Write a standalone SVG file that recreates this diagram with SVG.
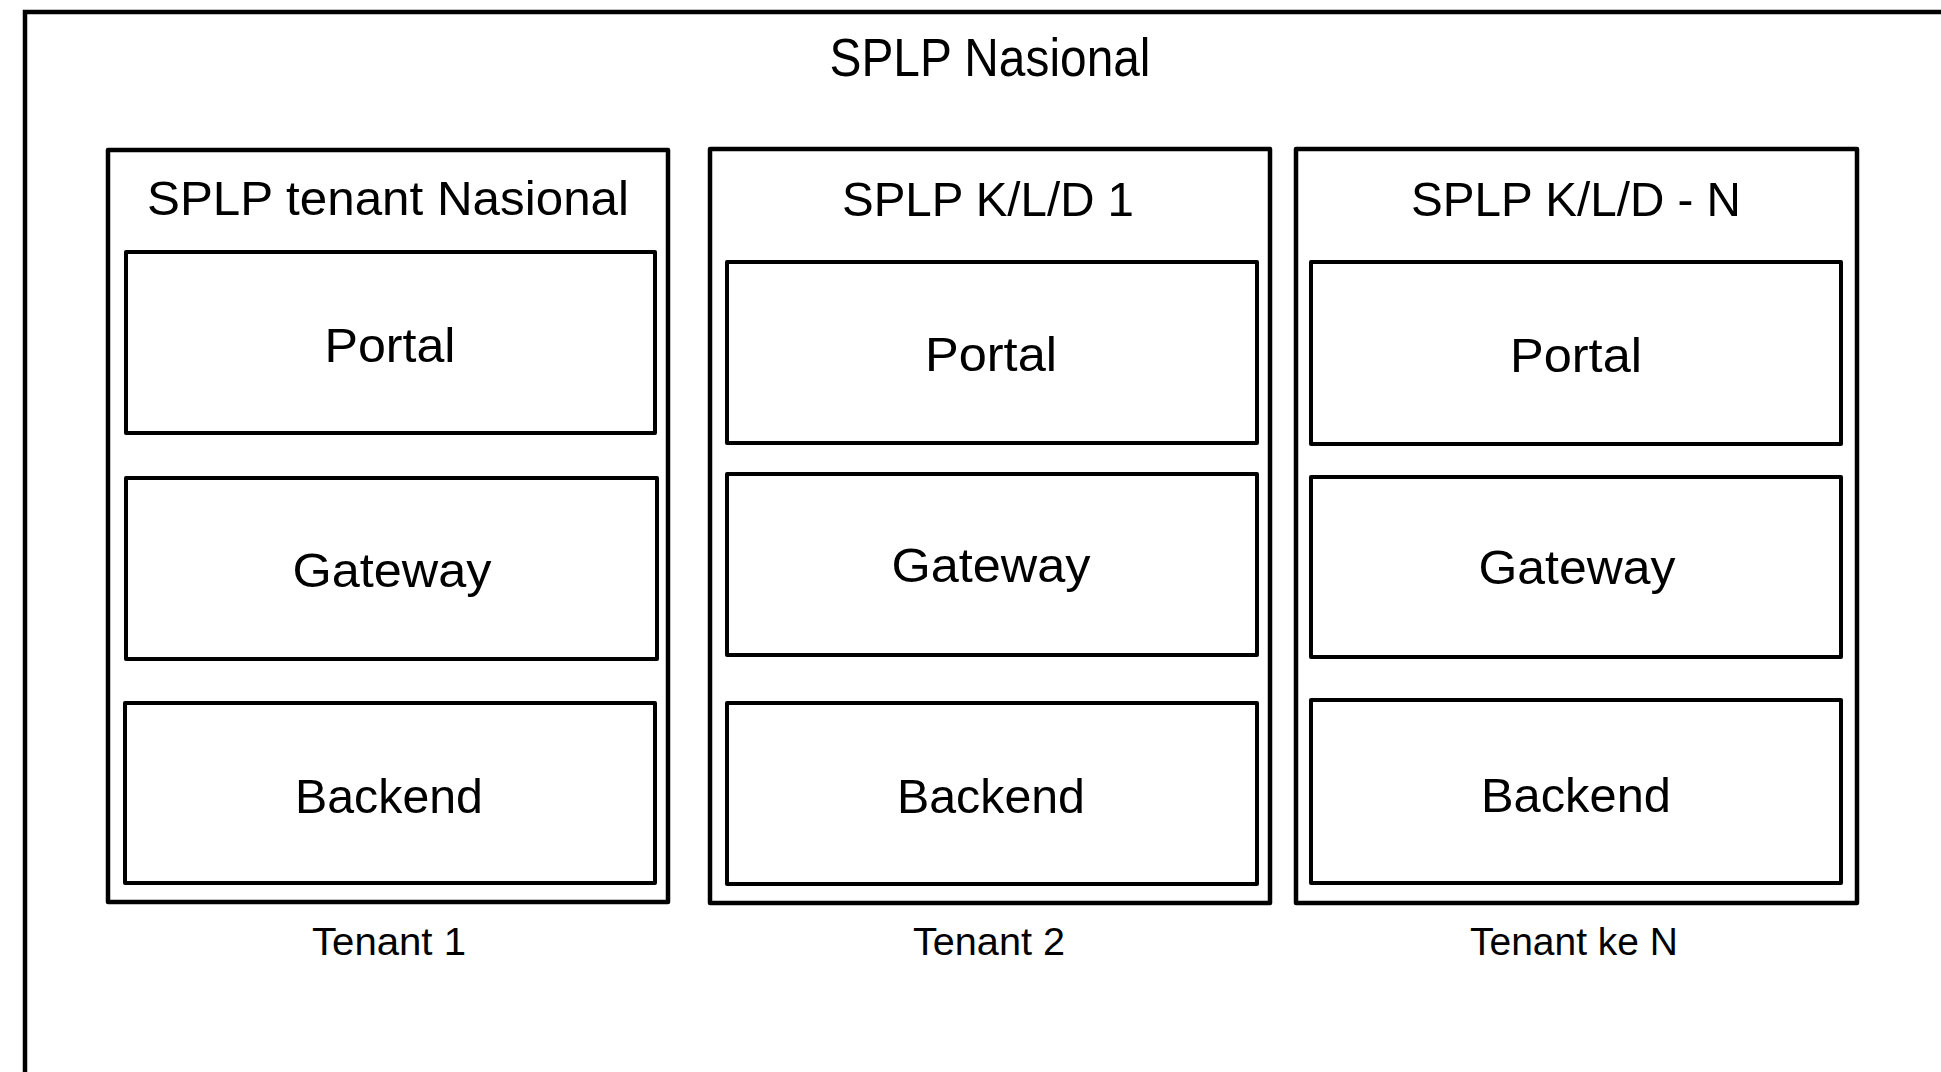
<svg xmlns="http://www.w3.org/2000/svg" width="1941" height="1072" viewBox="0 0 1941 1072">
  <style>
    .frame { fill: none; stroke: #000; stroke-width: 4.5; }
    .tenant { fill: #fff; stroke: #000; stroke-width: 4.5; stroke-linejoin: round; }
    .layer { fill: #fff; stroke: #000; stroke-width: 4; stroke-linejoin: round; }
    text { font-family: "Liberation Sans", Arial, sans-serif; fill: #000; text-anchor: middle; }
    .title { font-size: 49px; }
    .lbl { font-size: 49px; }
    .cap { font-size: 38px; }
    .main { font-size: 54px; }
  </style>
  <rect width="1941" height="1072" fill="#fff"/>
  <g id="splp-nasional">
    <path class="frame" d="M25,1080 V12 H1950"/>
    <text class="main" x="990" y="76" textLength="321" lengthAdjust="spacingAndGlyphs">SPLP Nasional</text>
  </g>
  <g id="tenant-1">
    <rect class="tenant" x="108" y="150" width="560" height="752"/>
    <text class="title" x="388" y="215" textLength="482" lengthAdjust="spacingAndGlyphs">SPLP tenant Nasional</text>
    <g id="t1-portal">
      <rect class="layer" x="126" y="252" width="529" height="181"/>
      <text class="lbl" x="390" y="362" textLength="131" lengthAdjust="spacingAndGlyphs">Portal</text>
    </g>
    <g id="t1-gateway">
      <rect class="layer" x="126" y="478" width="531" height="181"/>
      <text class="lbl" x="392" y="587" textLength="199" lengthAdjust="spacingAndGlyphs">Gateway</text>
    </g>
    <g id="t1-backend">
      <rect class="layer" x="125" y="703" width="530" height="180"/>
      <text class="lbl" x="389" y="813" textLength="188" lengthAdjust="spacingAndGlyphs">Backend</text>
    </g>
    <text class="cap" x="389" y="955" textLength="154" lengthAdjust="spacingAndGlyphs">Tenant 1</text>
  </g>
  <g id="tenant-2">
    <rect class="tenant" x="710" y="149" width="560" height="754"/>
    <text class="title" x="988" y="216" textLength="292" lengthAdjust="spacingAndGlyphs">SPLP K/L/D 1</text>
    <g id="t2-portal">
      <rect class="layer" x="727" y="262" width="530" height="181"/>
      <text class="lbl" x="991" y="371" textLength="132" lengthAdjust="spacingAndGlyphs">Portal</text>
    </g>
    <g id="t2-gateway">
      <rect class="layer" x="727" y="474" width="530" height="181"/>
      <text class="lbl" x="991" y="582" textLength="199" lengthAdjust="spacingAndGlyphs">Gateway</text>
    </g>
    <g id="t2-backend">
      <rect class="layer" x="727" y="703" width="530" height="181"/>
      <text class="lbl" x="991" y="813" textLength="188" lengthAdjust="spacingAndGlyphs">Backend</text>
    </g>
    <text class="cap" x="989" y="955" textLength="152" lengthAdjust="spacingAndGlyphs">Tenant 2</text>
  </g>
  <g id="tenant-n">
    <rect class="tenant" x="1296" y="149" width="561" height="754"/>
    <text class="title" x="1576" y="216" textLength="330" lengthAdjust="spacingAndGlyphs">SPLP K/L/D - N</text>
    <g id="tn-portal">
      <rect class="layer" x="1311" y="262" width="530" height="182"/>
      <text class="lbl" x="1576" y="372" textLength="132" lengthAdjust="spacingAndGlyphs">Portal</text>
    </g>
    <g id="tn-gateway">
      <rect class="layer" x="1311" y="477" width="530" height="180"/>
      <text class="lbl" x="1577" y="584" textLength="197" lengthAdjust="spacingAndGlyphs">Gateway</text>
    </g>
    <g id="tn-backend">
      <rect class="layer" x="1311" y="700" width="530" height="183"/>
      <text class="lbl" x="1576" y="812" textLength="190" lengthAdjust="spacingAndGlyphs">Backend</text>
    </g>
    <text class="cap" x="1574" y="955" textLength="208" lengthAdjust="spacingAndGlyphs">Tenant ke N</text>
  </g>
  <g id="connectors"></g>
</svg>
